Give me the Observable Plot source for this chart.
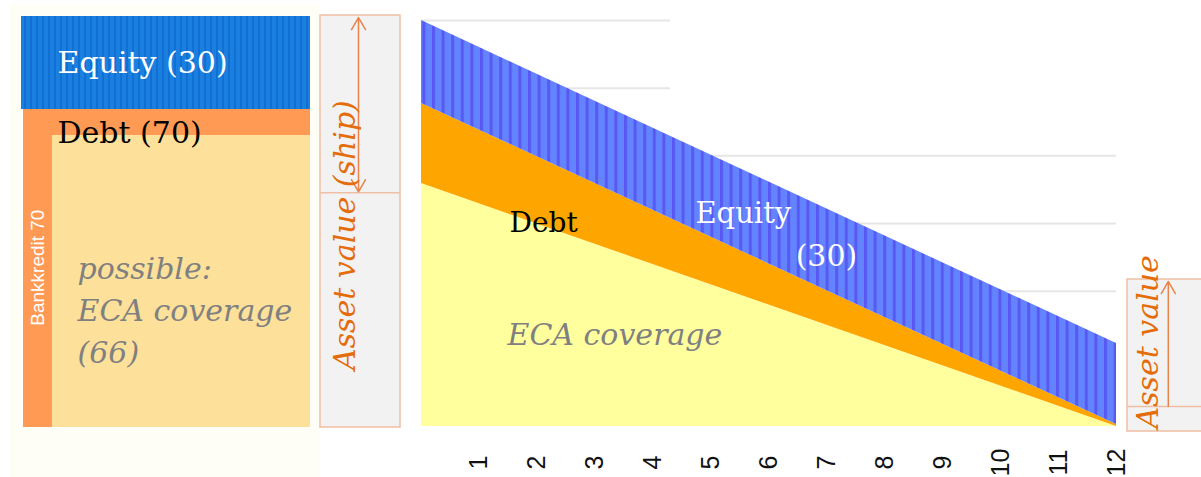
<!DOCTYPE html>
<html><head><meta charset="utf-8">
<script src="https://cdn.jsdelivr.net/npm/d3@7"></script>
<script src="https://cdn.jsdelivr.net/npm/@observablehq/plot@0.6"></script>
<style>
body{margin:0;background:#fff;}
#wrap{position:relative;width:1201px;height:477px;overflow:hidden;}
#wrap svg{position:absolute;left:0;top:0;background:transparent;}
#cream{position:absolute;left:10px;top:4px;width:310px;height:473px;background:#fffef6;}
</style></head><body><div id="wrap"><div id="cream"></div></div>
<script>
// ---- data ----
const years = [0, 12];
const assetTotal = [120, 24.5];   // top of equity band
const debtTop = [95.5, 0.6];      // top of debt band
const ecaTop = [71.8, 0];         // top of ECA coverage band
const gridValues = [40, 60, 80, 100, 120];
const tickYears = [1, 2, 3, 4, 5, 6, 7, 8, 9, 10, 11, 12];
const capitalParts = ["Debt", "Equity"];
const capitalFrom = [0, 70];
const capitalTo = [70, 100];
const ecaCoverage = [66];

const rows = years.map((t, i) => ({t, total: assetTotal[i], debt: debtTop[i], eca: ecaTop[i]}));
const capital = capitalParts.map((p, i) => ({part: p, from: capitalFrom[i], to: capitalTo[i]}));

const SERIF = "'DejaVu Serif', Georgia, serif";
const SANS = "'Liberation Sans', Arial, sans-serif";
const ORANGE_TXT = "#e46c0a";
const BOX_STROKE = "#efbfa5";
const wrap = document.getElementById("wrap");

function stripes(svg, id, w, sw, base, stripe) {
  const p = d3.select(svg).insert("defs", ":first-child").append("pattern")
    .attr("id", id).attr("patternUnits", "userSpaceOnUse")
    .attr("width", w).attr("height", 10);
  p.append("rect").attr("width", w).attr("height", 10).attr("fill", base);
  p.append("rect").attr("width", sw).attr("height", 10).attr("fill", stripe);
}

// ---- left panel: capital structure (schematic, piecewise vertical scale) ----
const seg = d3.scaleLinear().domain([0, 66, 70, 100]).range([427, 135, 109, 16]);
const left = Plot.plot({
  width: 1201, height: 477, axis: null,
  style: {background: "transparent"},
  x: {domain: [0, 1], range: [21, 310]},
  y: {type: "identity"},
  marks: [
    Plot.rect(capital.filter(d => d.part === "Equity"), {x1: 0, x2: 1, y1: d => seg(d.from), y2: d => seg(d.to), fill: "url(#eqDark)"}),
    Plot.rect(capital.filter(d => d.part === "Debt"), {x1: 0.007, x2: 1, y1: d => seg(d.from), y2: d => seg(d.to), fill: "#ff9a55"}),
    Plot.rect(ecaCoverage, {x1: 0.107, x2: 1, y1: seg(0), y2: d => seg(d), fill: "#fde09a"}),
    Plot.text(["Equity (30)"], {x: 0, y: seg(85), dx: 36, text: d => d, textAnchor: "start", fontFamily: SERIF, fontSize: 30, fill: "#fff"}),
    Plot.text(["Debt (70)"], {x: 0, y: seg(70), dx: 36, dy: 24, text: d => d, textAnchor: "start", fontFamily: SERIF, fontSize: 30, fill: "#000"}),
    Plot.text(["possible:\nECA coverage\n(66)"], {x: 0, y: seg(33), dx: 56, dy: 26, text: d => d, textAnchor: "start", lineHeight: 1.4, fontFamily: SERIF, fontStyle: "italic", fontSize: 30, fill: "#808080"}),
    Plot.text(["Bankkredit 70"], {x: 0, y: seg(35), dx: 16, dy: -5, rotate: -90, text: d => d, fontFamily: SANS, fontSize: 19, fill: "#fff"})
  ]
});
stripes(left, "eqDark", 6, 2, "#1b7fe0", "#0f6fd2");
wrap.appendChild(left);

// ---- asset value box (ship) ----
const boxL = Plot.plot({
  width: 1201, height: 477, axis: null,
  style: {background: "transparent"},
  x: {domain: [0, 1], range: [320, 400]},
  y: {domain: [0, 1], range: [427, 15]},
  marks: [
    Plot.rect([0], {x1: 0, x2: 1, y1: 0, y2: 1, fill: "#f2f2f2", stroke: BOX_STROKE, strokeWidth: 1.5}),
    Plot.ruleY([0.57], {x1: 0, x2: 1, stroke: BOX_STROKE, strokeWidth: 1.5}),
    Plot.arrow([0], {x1: 0.475, x2: 0.475, y1: 0.78, y2: 0.995, stroke: "#e8844c", strokeWidth: 1.5, headLength: 14, headAngle: 60, bend: 0}),
    Plot.arrow([0], {x1: 0.475, x2: 0.475, y1: 0.78, y2: 0.572, stroke: "#e8844c", strokeWidth: 1.5, headLength: 14, headAngle: 60, bend: 0}),
    Plot.text(["Asset value (ship)"], {x: 0.31, y: 0.467, rotate: -90, text: d => d, fontFamily: SERIF, fontStyle: "italic", fontSize: 30, fill: ORANGE_TXT})
  ]
});
wrap.appendChild(boxL);

// ---- main chart ----
const main = Plot.plot({
  width: 1201, height: 477, axis: null,
  style: {background: "transparent"},
  x: {domain: [0, 12], range: [421, 1116]},
  y: {domain: [0, 120], range: [426, 20]},
  marks: [
    Plot.ruleY(gridValues, {y: d => d, x1: 0, x2: d => d >= 100 ? 4.3 : 12, stroke: "#e6e6e6", strokeWidth: 2}),
    Plot.ruleX([0], {y1: 0, y2: 120, stroke: "#eeeeee", strokeWidth: 1}),
    Plot.areaY(rows, {x: "t", y1: 0, y2: "eca", fill: "#ffff9e"}),
    Plot.areaY(rows, {x: "t", y1: "eca", y2: "debt", fill: "#ffa500"}),
    Plot.areaY(rows, {x: "t", y1: "debt", y2: "total", fill: "url(#eqStripes)"}),
    Plot.text(["Debt"], {x: 1.52, y: 60, text: d => d, textAnchor: "start", fontFamily: SERIF, fontSize: 28, fill: "#000"}),
    Plot.text(["Equity"], {x: 4.73, y: 63, text: d => d, textAnchor: "start", fontFamily: SERIF, fontSize: 29, fill: "#fff"}),
    Plot.text(["(30)"], {x: 6.46, y: 50.3, text: d => d, textAnchor: "start", fontFamily: SERIF, fontSize: 30, fill: "#fff"}),
    Plot.text(["ECA coverage"], {x: 1.485, y: 26.8, text: d => d, textAnchor: "start", fontFamily: SERIF, fontStyle: "italic", fontSize: 30, fill: "#808080"}),
    Plot.text(tickYears, {x: d => d, y: 0, dy: 36, rotate: -90, text: d => String(d), fontFamily: SANS, fontSize: 25, fill: "#111"})
  ]
});
stripes(main, "eqStripes", 9.6, 3, "#6383ff", "#5858f4");
wrap.appendChild(main);

// ---- asset value box (end of term) ----
const boxR = Plot.plot({
  width: 1201, height: 477, axis: null,
  style: {background: "transparent"},
  x: {domain: [0, 1], range: [1127, 1207]},
  y: {domain: [0, 1], range: [431, 279]},
  marks: [
    Plot.rect([0], {x1: 0, x2: 1, y1: 0, y2: 1, fill: "#f2f2f2", stroke: BOX_STROKE, strokeWidth: 1.5}),
    Plot.ruleY([0.164], {x1: 0, x2: 1, stroke: BOX_STROKE, strokeWidth: 1.5}),
    Plot.arrow([0], {x1: 0.51, x2: 0.51, y1: 0.164, y2: 0.987, stroke: "#e8844c", strokeWidth: 1.5, headLength: 14, headAngle: 60, bend: 0}),
    Plot.text(["Asset value"], {x: 0.26, y: 0.59, rotate: -90, text: d => d, fontFamily: SERIF, fontStyle: "italic", fontSize: 30, fill: ORANGE_TXT})
  ]
});
wrap.appendChild(boxR);
</script></body></html>
